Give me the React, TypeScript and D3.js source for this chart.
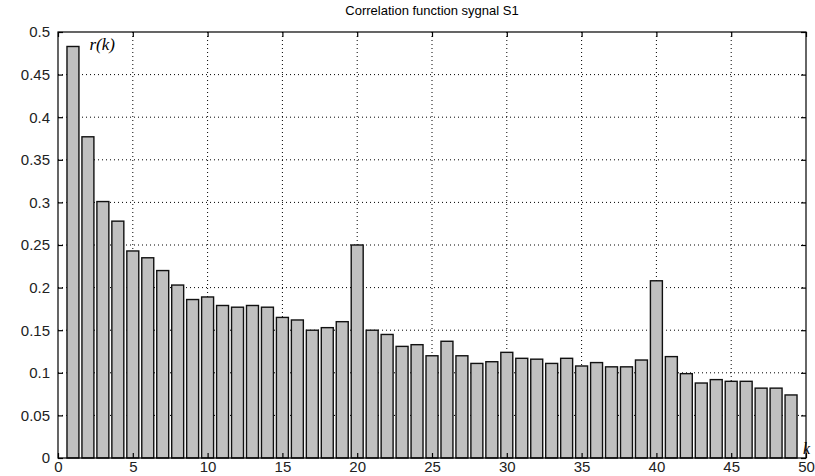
import React, { useRef, useEffect } from 'react';
import * as d3 from 'd3';

// lag values k = 1..49
const lags: number[] = Array.from({ length: 49 }, (_, i) => i + 1);
const corrValues: number[] = [
    0.483, 0.377, 0.301, 0.278, 0.243, 0.235, 0.220, 0.203, 0.186, 0.189,
    0.179, 0.177, 0.179, 0.177, 0.165, 0.162, 0.150, 0.153, 0.160, 0.250,
    0.150, 0.145, 0.131, 0.133, 0.120, 0.137, 0.120, 0.111, 0.113, 0.124,
    0.117, 0.116, 0.111, 0.117, 0.108, 0.112, 0.107, 0.107, 0.115, 0.208,
    0.119, 0.099, 0.088, 0.092, 0.090, 0.090, 0.082, 0.082, 0.074,
];
const xTicks: number[] = [0, 5, 10, 15, 20, 25, 30, 35, 40, 45, 50];
const yTicks: number[] = [0, 0.05, 0.1, 0.15, 0.2, 0.25, 0.3, 0.35, 0.4, 0.45, 0.5];

const title = 'Correlation function sygnal S1';

const width = 815;
const height = 476;

const App = () => {
    const svgRef = useRef<SVGSVGElement>(null);

    useEffect(() => {
        const svg = d3.select(svgRef.current);
        svg.selectAll('*').remove();

        const margin = { top: 32, right: 9, bottom: 18, left: 58 };
        const w = width - margin.left - margin.right;
        const h = height - margin.top - margin.bottom;

        const x = d3.scaleLinear().domain([0, 50]).range([0, w]);
        const y = d3.scaleLinear().domain([0, 0.5]).range([h, 0]);

        const g = svg.append('g').attr('transform', `translate(${margin.left},${margin.top})`);

        // dotted grid
        g.selectAll('.vgrid')
            .data(xTicks.slice(1, -1))
            .enter()
            .append('line')
            .attr('x1', d => x(d)).attr('x2', d => x(d))
            .attr('y1', 0).attr('y2', h)
            .attr('stroke', '#000')
            .attr('stroke-width', 1)
            .attr('stroke-dasharray', '1,3');
        g.selectAll('.hgrid')
            .data(yTicks.slice(1, -1))
            .enter()
            .append('line')
            .attr('x1', 0).attr('x2', w)
            .attr('y1', d => y(d)).attr('y2', d => y(d))
            .attr('stroke', '#000')
            .attr('stroke-width', 1)
            .attr('stroke-dasharray', '1,3');

        // bars
        const bw = x(0.8) - x(0);
        g.selectAll('.bar')
            .data(lags)
            .enter()
            .append('rect')
            .attr('x', d => x(d) - bw / 2)
            .attr('y', (d, i) => y(corrValues[i]))
            .attr('width', bw)
            .attr('height', (d, i) => h - y(corrValues[i]))
            .attr('fill', '#c0c0c0')
            .attr('stroke', '#111')
            .attr('stroke-width', 1.4);

        // axes, ticks inward on all sides
        const xAxis = d3.axisBottom(x).tickValues(xTicks).tickSize(-5).tickPadding(3).tickFormat(d3.format('d'));
        const yAxis = d3.axisLeft(y).tickValues(yTicks).tickSize(-5).tickPadding(8).tickFormat(d => String(+d));
        const xTop = d3.axisTop(x).tickValues(xTicks).tickSize(-5).tickFormat(() => '');
        const yRight = d3.axisRight(y).tickValues(yTicks).tickSize(-5).tickFormat(() => '');

        const styleAxis = (sel: any) => {
            sel.select('.domain').remove();
            sel.selectAll('line').attr('stroke', '#000').attr('stroke-width', 1.2);
            sel.selectAll('text')
                .attr('fill', '#222')
                .style('font-family', 'Liberation Sans, Arial, sans-serif')
                .style('font-size', '15px');
        };

        g.append('g').attr('transform', `translate(0,${h})`).call(xAxis).call(styleAxis);
        g.append('g').call(yAxis).call(styleAxis);
        g.append('g').call(xTop).call(styleAxis);
        g.append('g').attr('transform', `translate(${w},0)`).call(yRight).call(styleAxis);

        g.append('rect')
            .attr('x', 0).attr('y', 0)
            .attr('width', w).attr('height', h)
            .attr('fill', 'none')
            .attr('stroke', '#000')
            .attr('stroke-width', 1.2);

        // axis labels
        g.append('text')
            .attr('x', x(2.1)).attr('y', 18)
            .style('font-family', 'Liberation Serif, Times New Roman, serif')
            .style('font-style', 'italic')
            .style('font-size', '17px')
            .attr('fill', '#000')
            .text('r(k)');
        g.append('text')
            .attr('x', w - 3).attr('y', h - 4)
            .style('font-family', 'Liberation Serif, Times New Roman, serif')
            .style('font-style', 'italic')
            .style('font-size', '16px')
            .attr('fill', '#000')
            .text('k');

        svg.append('text')
            .attr('x', margin.left + w / 2)
            .attr('y', 15)
            .attr('text-anchor', 'middle')
            .style('font-family', 'Liberation Sans, Arial, sans-serif')
            .style('font-size', '13px')
            .attr('fill', '#000')
            .text(title);
    }, []);

    return (
        <svg
            ref={svgRef}
            width={width}
            height={height}
            style={{ position: 'absolute', left: 0, top: 0, background: '#fff' }}
        />
    );
};

export default App;
